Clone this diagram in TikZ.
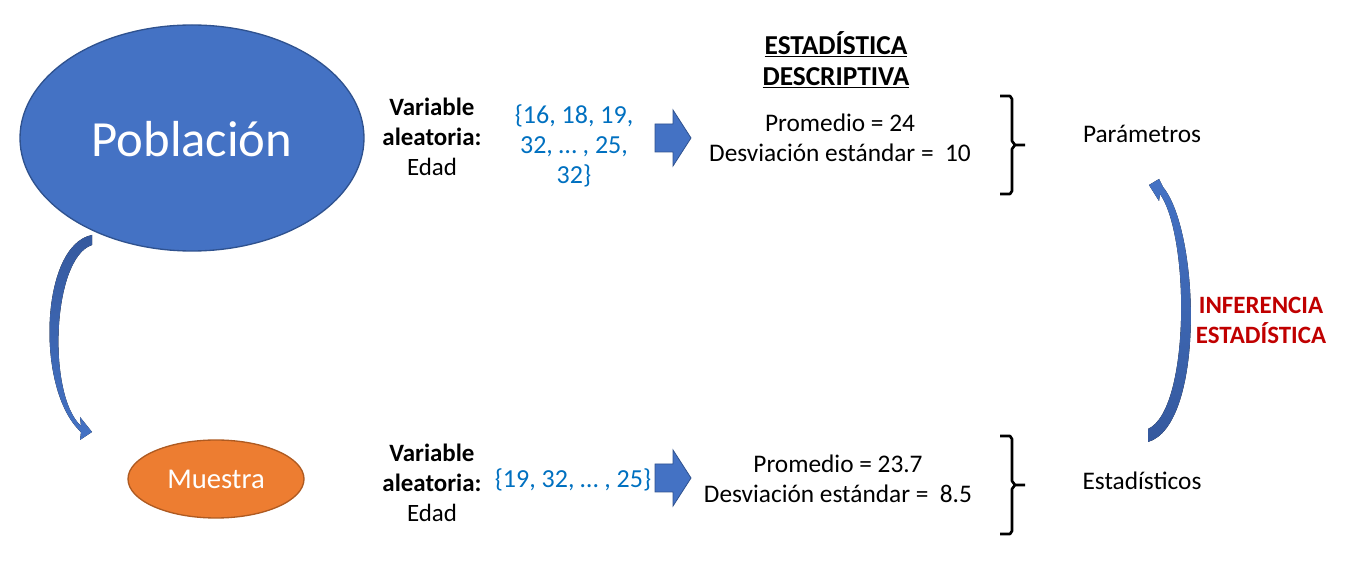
\documentclass[tikz,border=0pt]{standalone}
\usepackage{fontspec}
\setmainfont{Carlito}
\usetikzlibrary{shapes.geometric}
\definecolor{pblue}{HTML}{4472C4}
\definecolor{pblueD}{HTML}{2F528F}
\definecolor{pblueS}{HTML}{35599E}
\definecolor{porange}{HTML}{ED7D31}
\definecolor{porangeD}{HTML}{AE5A21}
\definecolor{tblue}{HTML}{0070C0}
\definecolor{tred}{HTML}{C00000}
\begin{document}
\begin{tikzpicture}[x=0.75pt,y=-0.75pt,
  txt/.style={font=\fontsize{19}{22.5}\selectfont, align=center, inner sep=0pt},
  ltxt/.style={txt, font=\fontsize{18.7}{22.5}\selectfont},
  btxt/.style={txt, font=\fontsize{18.7}{22.5}\selectfont\bfseries},
  settxt/.style={txt, text=tblue, font=\fontsize{19.5}{22.5}\selectfont},
  blockarrow/.style={fill=pblue, draw=pblueD, line width=0.6pt},
  bracestyle/.style={line width=2pt, line join=round}]
\useasboundingbox (0,0) rectangle (1350,573);

% Ellipses
\node[ellipse, fill=pblue, draw=pblueD, line width=1pt, minimum width=258pt, minimum height=169.5pt, inner sep=0pt] (pob) at (192,138) {};
\node[text=white, font=\fontsize{38}{42}\selectfont] (pobt) at (192,139) {Población};
\node[ellipse, fill=porange, draw=porangeD, line width=1pt, minimum width=132pt, minimum height=58.5pt, inner sep=0pt] (mue) at (216,479) {};
\node[text=white, txt, font=\fontsize{21.5}{24}\selectfont] (muet) at (216,479) {Muestra};

% curved arrow population -> sample
\fill[top color=pblueS, bottom color=pblue]
  (92,235) .. controls (40,245) and (35,390) .. (81,432) -- (80,440) -- (92,432) -- (80,417) -- (81,426)
  .. controls (47,395) and (52,258) .. (92,245) -- cycle;

% curved arrow statistics -> parameters
\fill[top color=pblue, bottom color=pblueS]
  (1148,442) .. controls (1205,425) and (1200,232) .. (1163,187) -- (1159,179) -- (1149,185) -- (1159,201) -- (1160,194)
  .. controls (1190,237) and (1190,410) .. (1148,429) -- cycle;

% header
\node[txt, font=\fontsize{20.5}{22.5}\selectfont\bfseries] (hd) at (836,60) {\underline{ESTADÍSTICA}\\[1pt]\underline{DESCRIPTIVA}};

% top row
\node[ltxt] (va1) at (432,137) {\textbf{Variable}\\\textbf{aleatoria:}\\Edad};
\node[settxt] (set1) at (574,146) {\{16, 18, 19,\\32, … , 25,\\32\}};
\coordinate (ba1) at (655,138);
\fill[blockarrow] (ba1) ++(0,-14) -- ++(18,0) -- ++(0,-14) -- ++(18,28) -- ++(-18,28) -- ++(0,-14) -- ++(-18,0) -- cycle;
\node[txt] (st1) at (840,138) {Promedio = 24\\Desviación estándar =\ \ 10};
\draw[bracestyle] (1000,96) -- (1010,96) -- (1012,99) -- (1012,141) -- (1015,145) -- (1025,145)
  (1015,145) -- (1012,149) -- (1012,191) -- (1010,194) -- (1000,194);
\node[txt] (par) at (1142,134) {Parámetros};

% inference
\node[btxt, text=tred] (inf) at (1261,320) {INFERENCIA\\ESTADÍSTICA};

% bottom row
\node[ltxt] (va2) at (432,483) {\textbf{Variable}\\\textbf{aleatoria:}\\Edad};
\node[settxt] (set2) at (573,480) {\{19, 32, … , 25\}};
\coordinate (ba2) at (655,478);
\fill[blockarrow] (ba2) ++(0,-14) -- ++(18,0) -- ++(0,-14) -- ++(18,28) -- ++(-18,28) -- ++(0,-14) -- ++(-18,0) -- cycle;
\node[txt] (st2) at (838,479) {Promedio = 23.7\\Desviación estándar =\ \ 8.5};
\draw[bracestyle] (1000,436) -- (1010,436) -- (1012,439) -- (1012,481) -- (1015,485) -- (1025,485)
  (1015,485) -- (1012,489) -- (1012,531) -- (1010,534) -- (1000,534);
\node[txt] (est) at (1142,481) {Estadísticos};
\end{tikzpicture}
\end{document}
